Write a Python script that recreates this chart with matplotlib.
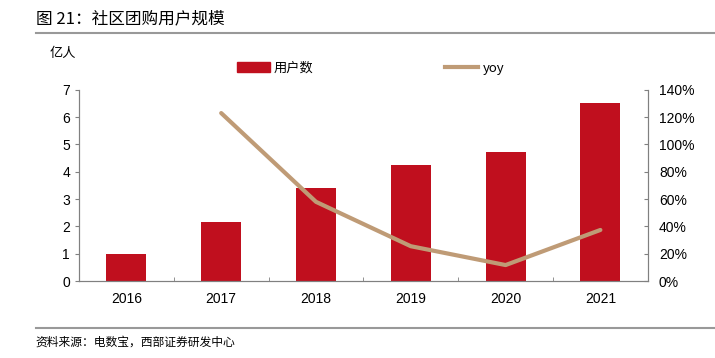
import matplotlib.pyplot as plt
from matplotlib.lines import Line2D
from matplotlib.patches import Patch
import numpy as np

plt.rcParams['font.family'] = ['Liberation Sans', 'Noto Sans CJK SC', 'DejaVu Sans']

years = ["2016", "2017", "2018", "2019", "2020", "2021"]
users = [0.98, 2.16, 3.40, 4.25, 4.73, 6.52]
yoy_years = ["2017", "2018", "2019", "2020", "2021"]
yoy = [123, 58, 25.5, 11.7, 37.4]

bar_color = "#c00f1e"
line_color = "#bf9b76"
axis_color = "#808080"
cjk = ['Noto Sans CJK SC', 'Liberation Sans']

fig = plt.figure(figsize=(7.15, 3.58), dpi=100)
ax = fig.add_axes([0.1105, 0.215, 0.7955, 0.534])
x = np.arange(len(years))
ax.bar(x, users, width=0.42, color=bar_color, zorder=2)
ax.set_xlim(-0.5, len(years) - 0.5)
ax.set_ylim(0, 7)
ax.set_yticks(range(0, 8))
ax.set_xticks(x)
ax.set_xticklabels(years)
ax.set_xticks(np.arange(-0.5, len(years)), minor=True)
ax.tick_params(axis="x", which="major", length=0, labelsize=10, pad=8)
ax.tick_params(axis="x", which="minor", length=3, direction="in", color=axis_color)
ax.tick_params(axis="y", length=3, color=axis_color, labelsize=10)

ax2 = ax.twinx()
yoy_x = [years.index(y) for y in yoy_years]
ax2.plot(yoy_x, yoy, color=line_color, lw=3, solid_capstyle="round", zorder=3)
ax2.set_ylim(0, 140)
ax2.set_yticks(range(0, 141, 20))
ax2.set_yticklabels([f"{v}%" for v in range(0, 141, 20)])
ax2.tick_params(axis="y", length=3, direction="in", color=axis_color, labelsize=10, pad=8)

for a in (ax, ax2):
    a.spines["top"].set_visible(False)
    for s in ("left", "right", "bottom"):
        a.spines[s].set_color(axis_color)

handles = [Patch(color=bar_color, label="用户数"),
           Line2D([0], [0], color=line_color, lw=3, label="yoy")]
leg = fig.legend(handles=handles, ncol=2, loc="center", bbox_to_anchor=(0.518, 0.81),
                 frameon=False, columnspacing=10, handlelength=2.5, handletextpad=0.3,
                 prop={"family": cjk, "size": 9.5})

fig.text(0.07, 0.852, "亿人", family=cjk, fontsize=9.5, va="center")
fig.text(0.05, 0.948, "图 21：社区团购用户规模", family=cjk, fontsize=12, va="center")
fig.add_artist(Line2D([0.05, 1.0], [0.908, 0.908], color="#999999", lw=1.5))
fig.add_artist(Line2D([0.05, 1.0], [0.084, 0.084], color="#999999", lw=1.5))
fig.text(0.05, 0.045, "资料来源：电数宝，西部证券研发中心", family=cjk, fontsize=8.5, va="center")

fig.savefig("out.png", dpi=100)
